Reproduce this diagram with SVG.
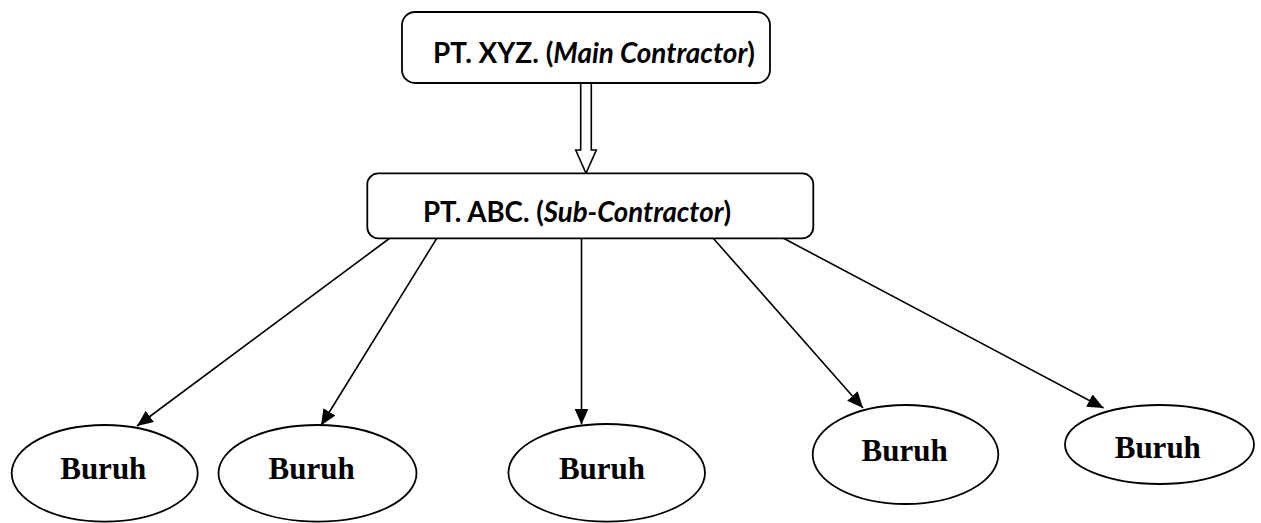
<svg xmlns="http://www.w3.org/2000/svg" width="1261" height="523" viewBox="0 0 1261 523">
  <style>
    .box { fill: #fff; stroke: #000; stroke-width: 1.8; }
    .oval { fill: #fff; stroke: #000; stroke-width: 1.8; }
    .hdr { font-family: Lato, "Open Sans", "Liberation Sans", sans-serif; font-weight: bold; font-size: 28px; fill: #000; }
    .it { font-style: italic; }
    .lbl { font-family: "Liberation Serif", "Times New Roman", serif; font-weight: bold; font-size: 31px; fill: #000; text-anchor: middle; }
    .edge { fill: none; stroke: #000; stroke-width: 1.6; }
  </style>
  <defs>
    <marker id="arrow" markerUnits="userSpaceOnUse" markerWidth="18" markerHeight="16" refX="16" refY="7" orient="auto">
      <path d="M0,0 L16,7 L0,14 Z" fill="#000"/>
    </marker>
  </defs>

  <rect width="1261" height="523" fill="#fff"/>

  <!-- connectors -->
  <g id="connectors">
    <!-- hollow double-line arrow from main contractor to sub-contractor -->
    <path class="edge" d="M580.7,83 L580.7,150 L575.7,150 L586,173.3 L596.3,150 L591.3,150 L591.3,83" fill="#fff"/>
    <line class="edge" x1="390" y1="238" x2="137" y2="426" marker-end="url(#arrow)"/>
    <line class="edge" x1="437" y1="238" x2="321" y2="425.5" marker-end="url(#arrow)"/>
    <line class="edge" x1="581.5" y1="238" x2="581.5" y2="424.5" marker-end="url(#arrow)"/>
    <line class="edge" x1="713" y1="238" x2="863" y2="408" marker-end="url(#arrow)"/>
    <line class="edge" x1="783" y1="238" x2="1103.5" y2="408" marker-end="url(#arrow)"/>
  </g>

  <g id="main-contractor">
    <rect class="box" x="402" y="12" width="368" height="71" rx="13" ry="13"/>
    <text class="hdr" x="433" y="63" textLength="322" lengthAdjust="spacingAndGlyphs">PT. XYZ. (<tspan class="it">Main Contractor</tspan>)</text>
  </g>

  <g id="sub-contractor">
    <rect class="box" x="367.3" y="173.3" width="446" height="65" rx="11" ry="11"/>
    <text class="hdr" x="423" y="221.7" textLength="308" lengthAdjust="spacingAndGlyphs">PT. ABC. (<tspan class="it">Sub-Contractor</tspan>)</text>
  </g>

  <g id="buruh-1">
    <ellipse class="oval" cx="104.7" cy="473.3" rx="93" ry="48.3"/>
    <text class="lbl" x="103.3" y="479">Buruh</text>
  </g>
  <g id="buruh-2">
    <ellipse class="oval" cx="317.5" cy="473.3" rx="99" ry="48.3"/>
    <text class="lbl" x="311.7" y="479">Buruh</text>
  </g>
  <g id="buruh-3">
    <ellipse class="oval" cx="606.7" cy="472.8" rx="98.3" ry="48.8"/>
    <text class="lbl" x="602" y="479">Buruh</text>
  </g>
  <g id="buruh-4">
    <ellipse class="oval" cx="905.5" cy="454.5" rx="92.8" ry="49.5"/>
    <text class="lbl" x="904.7" y="461">Buruh</text>
  </g>
  <g id="buruh-5">
    <ellipse class="oval" cx="1159.5" cy="444.5" rx="94.5" ry="39.5"/>
    <text class="lbl" x="1157.8" y="458.3">Buruh</text>
  </g>
</svg>
